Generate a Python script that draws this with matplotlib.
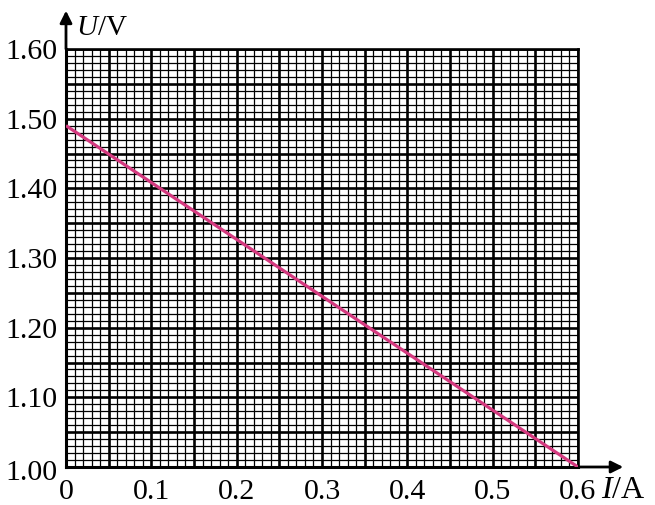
import numpy as np
import matplotlib
matplotlib.use("Agg")
import matplotlib.pyplot as plt
import matplotlib.transforms as mtransforms
from matplotlib.ticker import MultipleLocator, FuncFormatter

plt.rcParams['font.family'] = ['Liberation Serif', 'DejaVu Serif']
plt.rcParams['mathtext.fontset'] = 'custom'
plt.rcParams['mathtext.rm'] = 'Liberation Serif'
plt.rcParams['mathtext.it'] = 'Liberation Serif:italic'

# Data
current_A = [0.0, 0.6]
voltage_V = [1.49, 1.00]
x_range = [0.0, 0.6]
y_range = [1.00, 1.60]
x_label = "$I$/A"
y_label = "$U$/V"

fig = plt.figure(figsize=(6.55, 5.05), dpi=100)
ax = fig.add_axes([66/655, 38/505, 512/655, 418/505])
ax.set_xlim(*x_range)
ax.set_ylim(*y_range)

ax.xaxis.set_major_locator(MultipleLocator(0.05))
ax.yaxis.set_major_locator(MultipleLocator(0.05))
ax.xaxis.set_minor_locator(MultipleLocator(0.01))
ax.yaxis.set_minor_locator(MultipleLocator(0.01))

def xfmt(v, pos):
    k = round(v / 0.05)
    if k % 2:
        return ''
    return '0' if abs(v) < 1e-9 else f'{v:.1f}'

def yfmt(v, pos):
    k = round(v / 0.05)
    if k % 2 or abs(v - y_range[0]) < 1e-9:
        return ''
    return f'{v:.2f}'

ax.xaxis.set_major_formatter(FuncFormatter(xfmt))
ax.yaxis.set_major_formatter(FuncFormatter(yfmt))
ax.tick_params(which='both', length=0, labelsize=21.5)
ax.tick_params(axis='x', pad=8.5)
ax.tick_params(axis='y', pad=6)

ax.grid(which='minor', color='black', lw=0.9, zorder=1)
ax.grid(which='major', color='black', lw=1.9, zorder=1)
ax.set_axisbelow(True)

for s in ['top', 'right']:
    ax.spines[s].set_linewidth(1.9)
for s in ['left', 'bottom']:
    ax.spines[s].set_linewidth(2.2)

ax.plot(current_A, voltage_V, color='#d4397f', lw=2.3, zorder=5, solid_capstyle='butt')

# bottom y tick label, slightly lowered as in the reference
off = mtransforms.ScaledTranslation(-8/100, -6/100, fig.dpi_scale_trans)
ax.text(0, y_range[0], f'{y_range[0]:.2f}', fontsize=21.5, ha='right', va='center',
        transform=ax.get_yaxis_transform() + off, clip_on=False)

# Axis arrows
ax.annotate('', xy=(0.0, 1.655), xytext=(0.0, 1.60), xycoords='data',
            arrowprops=dict(arrowstyle='-|>', mutation_scale=18, lw=2.0, color='black',
                            shrinkA=0, shrinkB=0), annotation_clip=False)
ax.annotate('', xy=(0.653, 1.00), xytext=(0.6, 1.00), xycoords='data',
            arrowprops=dict(arrowstyle='-|>', mutation_scale=18, lw=2.0, color='black',
                            shrinkA=0, shrinkB=0), annotation_clip=False)

fig.text(76/655, 1 - 35/505, y_label, fontsize=21, ha='left', va='baseline')
fig.text(601/655, 1 - 498/505, x_label, fontsize=23, ha='left', va='baseline')

fig.savefig('out.png', dpi=100)
